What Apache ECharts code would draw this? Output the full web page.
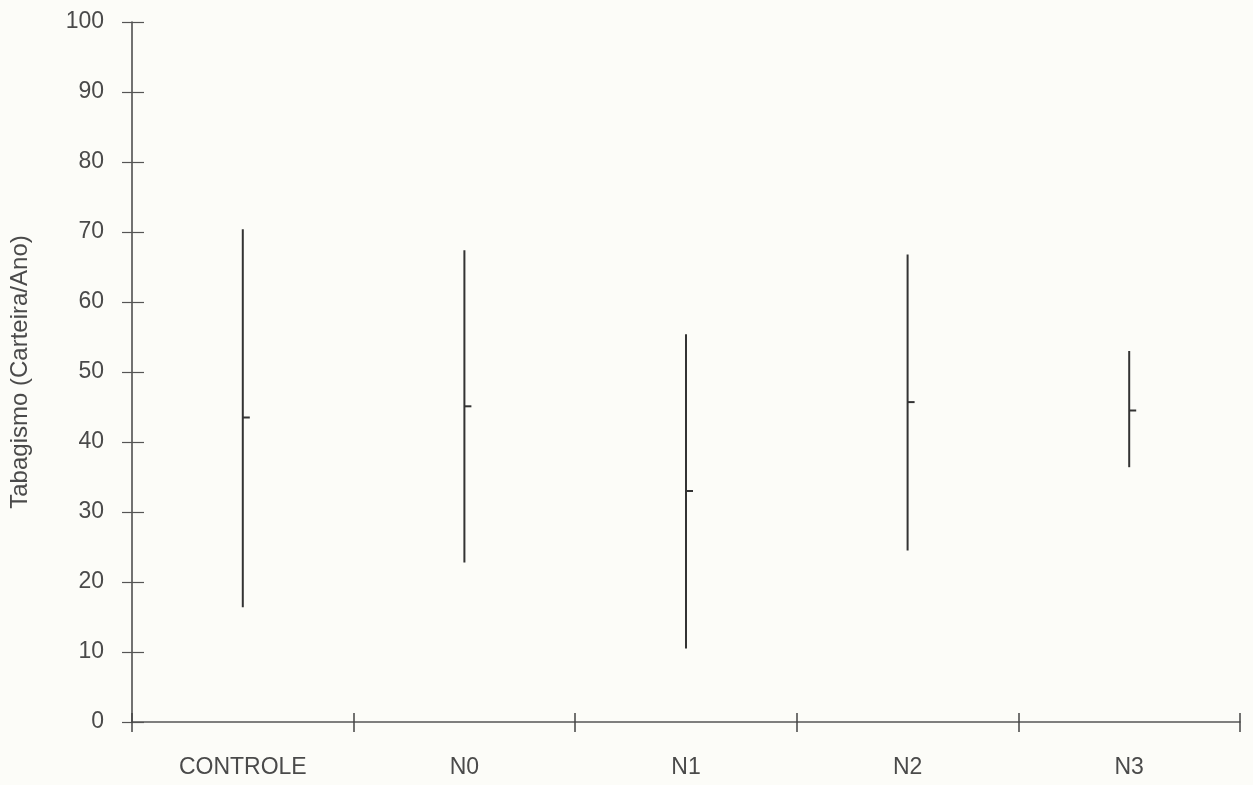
<!DOCTYPE html>
<html>
<head>
<meta charset="utf-8">
<script src="https://cdn.jsdelivr.net/npm/echarts@6/dist/echarts.min.js"></script>
<style>
  html, body { margin: 0; padding: 0; background: #fcfcf8; }
  #chart { width: 1253px; height: 785px; }
</style>
</head>
<body>
<div id="chart"></div>
<script>
// groups and values
const categories = ['CONTROLE', 'N0', 'N1', 'N2', 'N3'];
const lowValues = [16.4, 22.8, 10.5, 24.5, 36.4];
const highValues = [70.4, 67.4, 55.4, 66.8, 53.0];
const meanValues = [43.5, 45.1, 33.0, 45.7, 44.5];

const rangeData = categories.map((c, i) => [i, lowValues[i], highValues[i], meanValues[i]]);

const chart = echarts.init(document.getElementById('chart'));

const labelFont = { color: '#4a4a4a', fontSize: 23, fontFamily: 'Liberation Sans, Arial, sans-serif' };

const option = {
  backgroundColor: '#fcfcf8',
  animation: false,
  grid: { left: 131, right: 13, top: 22, bottom: 63, containLabel: false },
  xAxis: [
    {
      type: 'category',
      data: categories,
      boundaryGap: true,
      axisLine: { show: true, lineStyle: { color: '#555', width: 1.5 } },
      axisTick: { show: true, alignWithLabel: false, length: 10, lineStyle: { color: '#444', width: 1.5 } },
      axisLabel: Object.assign({ margin: 34 }, labelFont)
    },
    {
      // upper half of the crossing ticks
      type: 'category',
      data: categories,
      position: 'bottom',
      boundaryGap: true,
      axisLine: { show: false },
      axisTick: { show: true, inside: true, length: 9, lineStyle: { color: '#444', width: 1.5 } },
      axisLabel: { show: false }
    }
  ],
  yAxis: [
    {
      type: 'value',
      min: 0,
      max: 100,
      interval: 10,
      name: 'Tabagismo (Carteira/Ano)',
      nameLocation: 'middle',
      nameGap: 100,
      nameTextStyle: { color: '#4a4a4a', fontSize: 24, fontFamily: 'Liberation Sans, Arial, sans-serif' },
      splitLine: { show: false },
      axisLine: { show: true, lineStyle: { color: '#444', width: 1.5 } },
      axisTick: { show: true, length: 10, lineStyle: { color: '#555', width: 1.2 } },
      axisLabel: Object.assign({ margin: 28 }, labelFont)
    },
    {
      type: 'value',
      min: 0,
      max: 100,
      interval: 10,
      position: 'left',
      splitLine: { show: false },
      axisLine: { show: false },
      axisTick: { show: true, inside: true, length: 12, lineStyle: { color: '#555', width: 1.2 } },
      axisLabel: { show: false }
    }
  ],
  series: [
    {
      type: 'custom',
      xAxisIndex: 0,
      yAxisIndex: 0,
      data: rangeData,
      renderItem: function (params, api) {
        const x = api.value(0);
        const top = api.coord([x, api.value(2)]);
        const bottom = api.coord([x, api.value(1)]);
        const mean = api.coord([x, api.value(3)]);
        const style = { stroke: '#333', lineWidth: 2 };
        return {
          type: 'group',
          children: [
            { type: 'line', shape: { x1: top[0], y1: top[1], x2: bottom[0], y2: bottom[1] }, style: style },
            { type: 'line', shape: { x1: mean[0], y1: mean[1], x2: mean[0] + 7, y2: mean[1] }, style: style }
          ]
        };
      }
    }
  ]
};

chart.setOption(option);
</script>
</body>
</html>
